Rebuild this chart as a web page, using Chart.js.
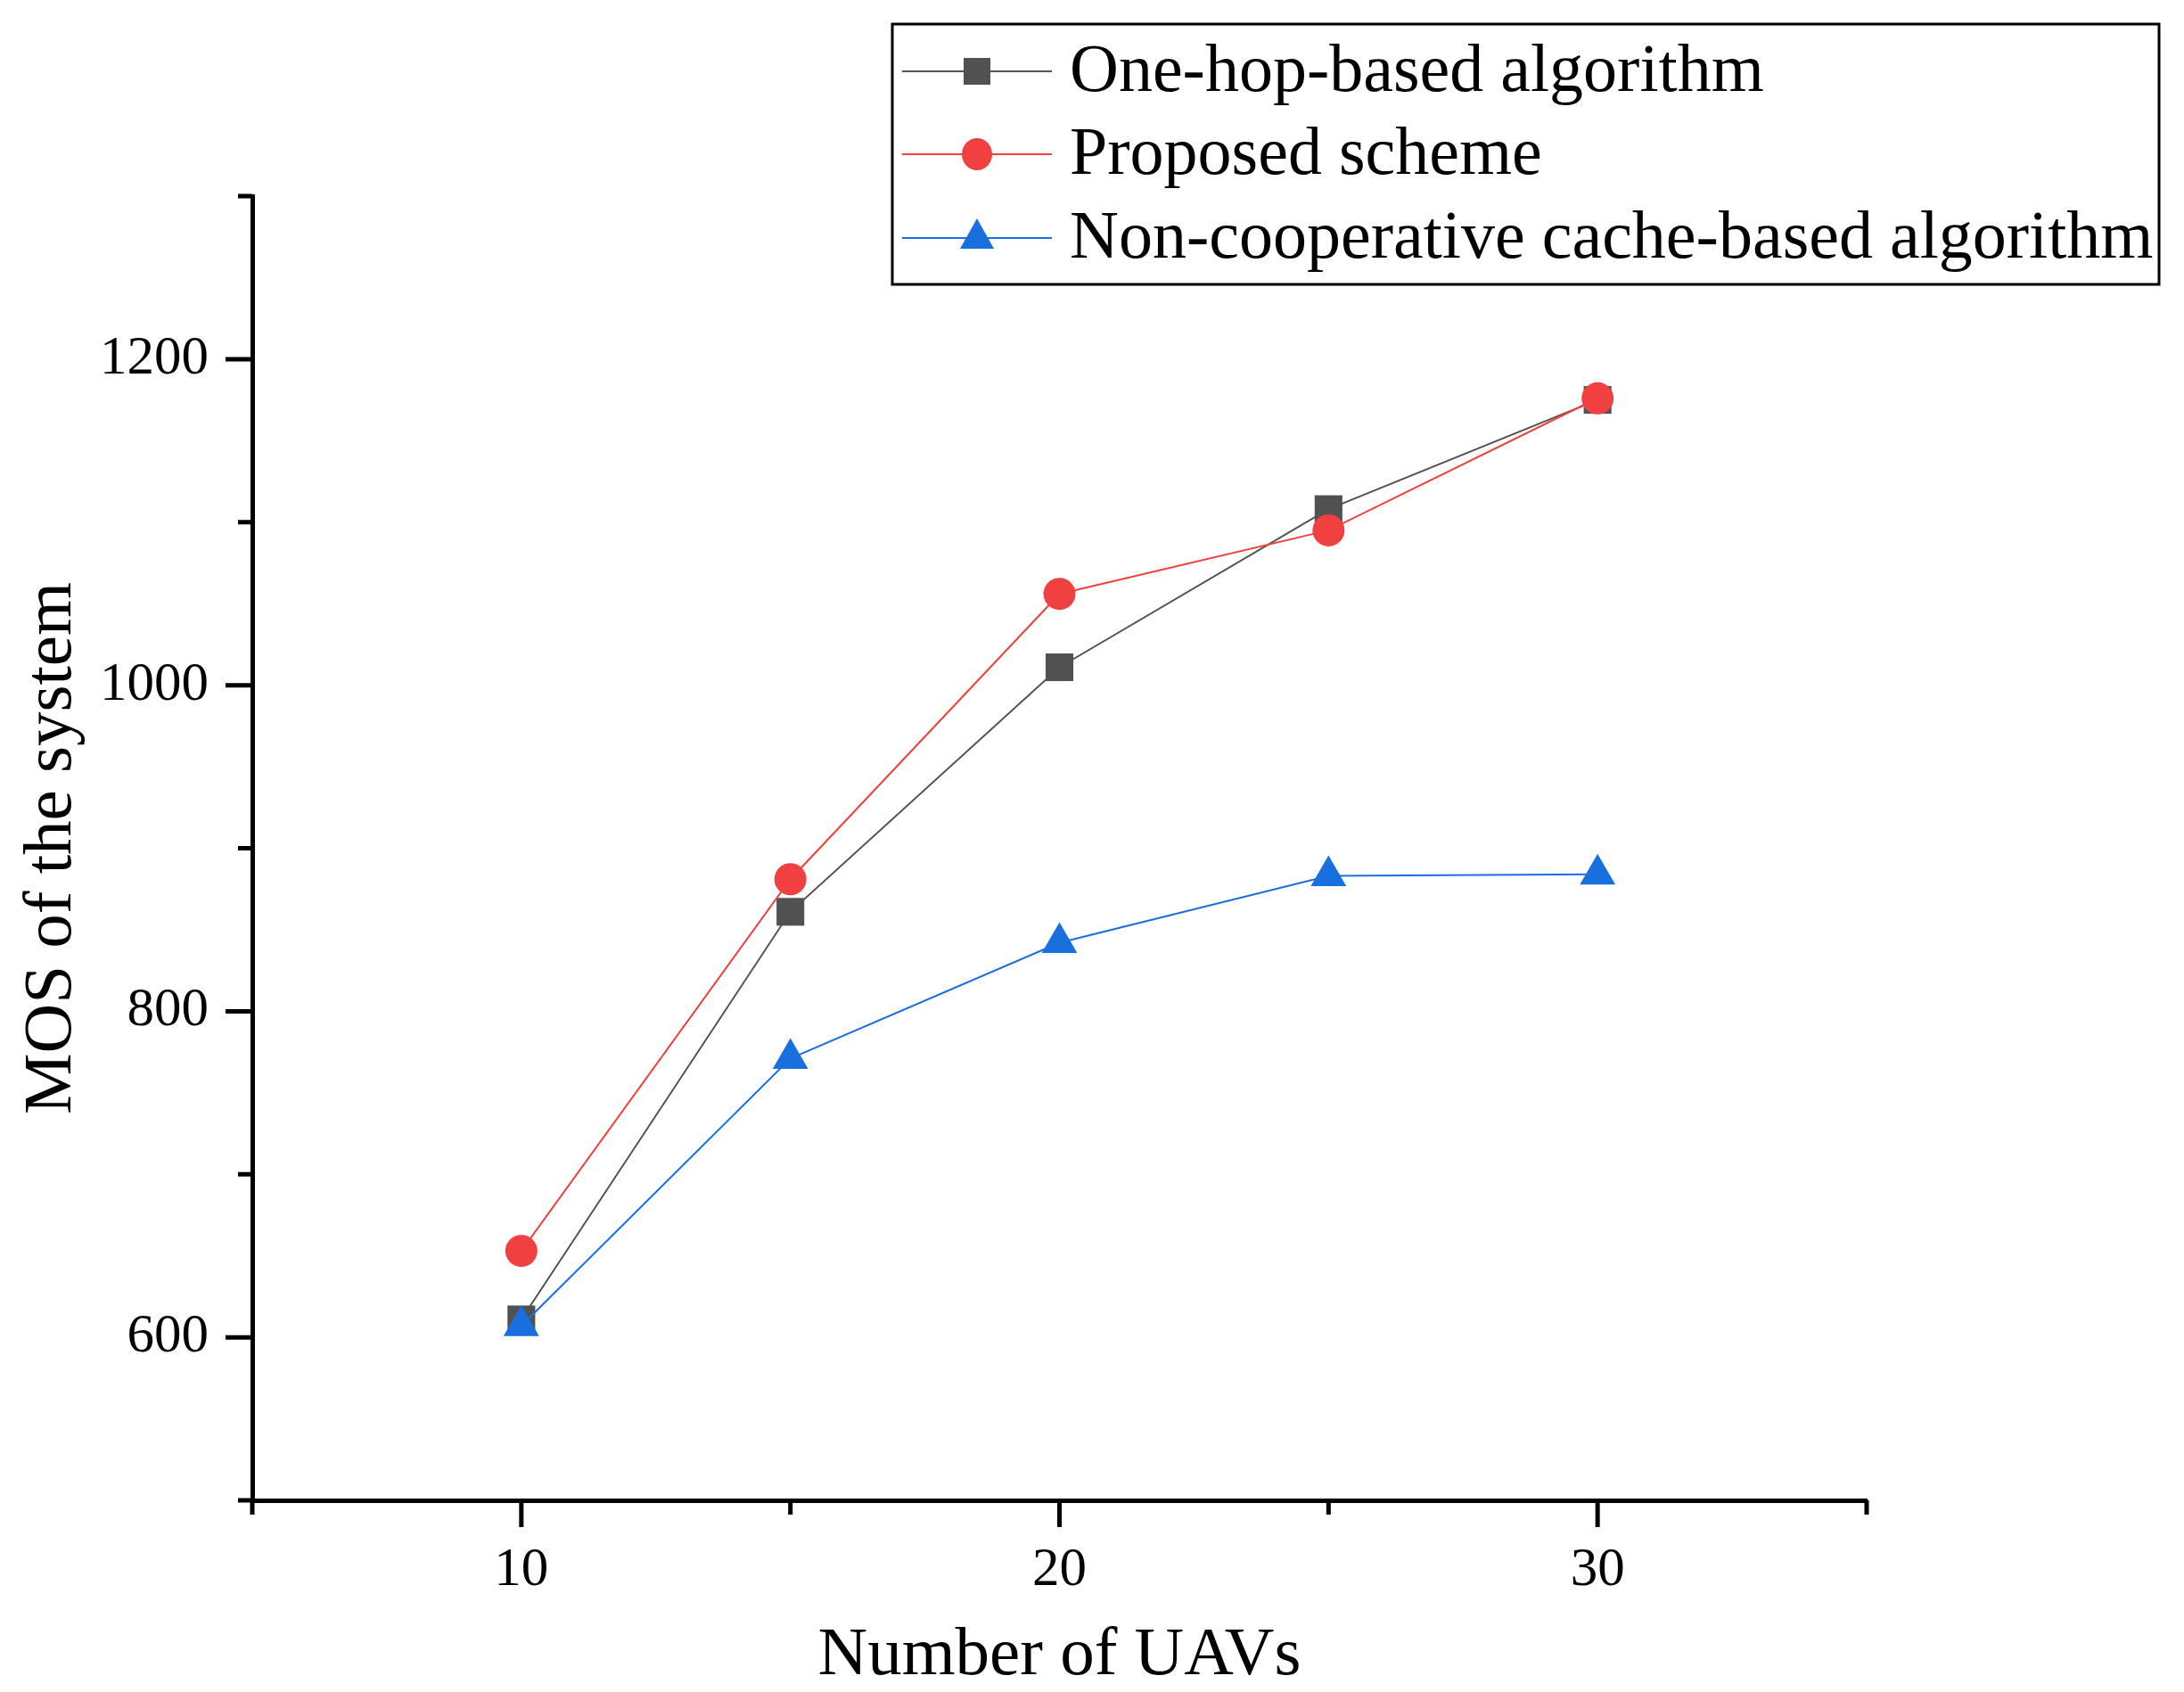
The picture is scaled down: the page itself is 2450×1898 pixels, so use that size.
<!DOCTYPE html>
<html>
<head>
<meta charset="utf-8">
<script src="https://cdn.jsdelivr.net/npm/chart.js@4.4.1/dist/chart.umd.min.js"></script>
<style>
  html, body { margin: 0; padding: 0; background: #fff; }
  canvas { display: block; }
</style>
</head>
<body>
<canvas id="myChart" width="2450" height="1898"></canvas>
<script>
// number of UAVs on x, MOS on y
const uavs = [10, 15, 20, 25, 30];
const oneHop = [611, 861, 1011, 1108, 1175];
const proposed = [653, 881, 1056, 1095, 1176];
const nonCoop = [607, 771, 842, 883, 884];

const seriesNames = ['One-hop-based algorithm', 'Proposed scheme', 'Non-cooperative cache-based algorithm'];
const xMajor = [10, 20, 30];
const yMajor = [600, 800, 1000, 1200];

const FONT = '"Liberation Serif", "Times New Roman", serif';
const BLACK_C = '#515151', RED_C = '#F14040', BLUE_C = '#1A6FDF';

const toPts = (ys) => uavs.map((x, i) => ({ x: x, y: ys[i] }));

// minor + major tick marks, lengths differ so drawn by hand
const tickMarks = {
  id: 'tickMarks',
  afterDraw(chart) {
    const ctx = chart.ctx;
    const xs = chart.scales.x, ys = chart.scales.y;
    const a = chart.chartArea;
    ctx.save();
    ctx.strokeStyle = '#000';
    ctx.lineWidth = 5;
    ctx.beginPath();
    xs.ticks.forEach(t => {
      const px = xs.getPixelForValue(t.value);
      const len = xMajor.includes(t.value) ? 30 : 16;
      ctx.moveTo(px, a.bottom);
      ctx.lineTo(px, a.bottom + len);
    });
    ys.ticks.forEach(t => {
      const py = ys.getPixelForValue(t.value);
      const len = yMajor.includes(t.value) ? 30 : 16;
      ctx.moveTo(a.left, py);
      ctx.lineTo(a.left - len, py);
    });
    ctx.stroke();
    ctx.restore();
  }
};

// legend box top right, line + marker + text
const boxLegend = {
  id: 'boxLegend',
  afterDraw(chart) {
    const ctx = chart.ctx;
    const bx = 1001, by = 27, bw = 1421, bh = 292;
    ctx.save();
    ctx.fillStyle = '#fff';
    ctx.fillRect(bx, by, bw, bh);
    ctx.strokeStyle = '#000';
    ctx.lineWidth = 3;
    ctx.strokeRect(bx, by, bw, bh);
    const rows = [80, 173, 267];
    chart.data.datasets.forEach((ds, i) => {
      const y = rows[i];
      ctx.strokeStyle = ds.borderColor;
      ctx.lineWidth = 2;
      ctx.beginPath();
      ctx.moveTo(1012, y);
      ctx.lineTo(1180, y);
      ctx.stroke();
      ctx.fillStyle = ds.backgroundColor;
      ctx.beginPath();
      const cx = 1096;
      if (ds.pointStyle === 'rect') {
        ctx.rect(cx - 15, y - 15, 30, 30);
      } else if (ds.pointStyle === 'circle') {
        ctx.ellipse(cx, y, 17, 18, 0, 0, Math.PI * 2);
      } else {
        ctx.moveTo(cx, y - 22);
        ctx.lineTo(cx + 19, y + 12);
        ctx.lineTo(cx - 19, y + 12);
        ctx.closePath();
      }
      ctx.fill();
      ctx.fillStyle = '#000';
      ctx.font = '76px ' + FONT;
      ctx.textBaseline = 'middle';
      ctx.textAlign = 'left';
      ctx.fillText(seriesNames[i], 1200, y + 2);
    });
    ctx.restore();
  }
};

const ctx = document.getElementById('myChart');
new Chart(ctx, {
  type: 'line',
  data: {
    datasets: [
      {
        label: seriesNames[0],
        data: toPts(oneHop),
        borderColor: BLACK_C,
        backgroundColor: BLACK_C,
        borderWidth: 2,
        pointStyle: 'rect',
        pointRadius: 22,
        pointBorderWidth: 0,
        order: 3
      },
      {
        label: seriesNames[1],
        data: toPts(proposed),
        borderColor: RED_C,
        backgroundColor: RED_C,
        borderWidth: 2,
        pointStyle: 'circle',
        pointRadius: 18,
        pointBorderWidth: 0,
        order: 2
      },
      {
        label: seriesNames[2],
        data: toPts(nonCoop),
        borderColor: BLUE_C,
        backgroundColor: BLUE_C,
        borderWidth: 2,
        pointStyle: 'triangle',
        pointRadius: 23,
        pointBorderWidth: 0,
        order: 1
      }
    ]
  },
  options: {
    responsive: false,
    devicePixelRatio: 1,
    animation: false,
    layout: { padding: { left: 0, top: 220, right: 356, bottom: 0 } },
    plugins: {
      legend: { display: false },
      tooltip: { enabled: false }
    },
    scales: {
      x: {
        type: 'linear',
        min: 5,
        max: 35,
        afterFit: (s) => { s.height = 215; },
        border: { display: true, color: '#000', width: 5 },
        grid: { display: false, drawTicks: false },
        ticks: {
          stepSize: 5,
          autoSkip: false,
          maxRotation: 0,
          padding: 42,
          color: '#000',
          font: { family: FONT, size: 61 },
          callback: (v) => xMajor.includes(v) ? String(v) : ''
        },
        title: {
          display: true,
          text: 'Number of UAVs',
          color: '#000',
          font: { family: FONT, size: 77, lineHeight: 1 },
          padding: { top: 0, bottom: 2 }
        }
      },
      y: {
        type: 'linear',
        min: 500,
        max: 1300,
        afterFit: (s) => { s.width = 283; },
        border: { display: true, color: '#000', width: 5 },
        grid: { display: false, drawTicks: false },
        ticks: {
          stepSize: 100,
          autoSkip: false,
          padding: 49,
          color: '#000',
          font: { family: FONT, size: 61 },
          callback: (v) => yMajor.includes(v) ? String(v) : ''
        },
        title: {
          display: true,
          text: 'MOS of the system',
          color: '#000',
          font: { family: FONT, size: 77, lineHeight: 1 },
          padding: { top: 20, bottom: 0 }
        }
      }
    }
  },
  plugins: [tickMarks, boxLegend]
});
</script>
</body>
</html>
